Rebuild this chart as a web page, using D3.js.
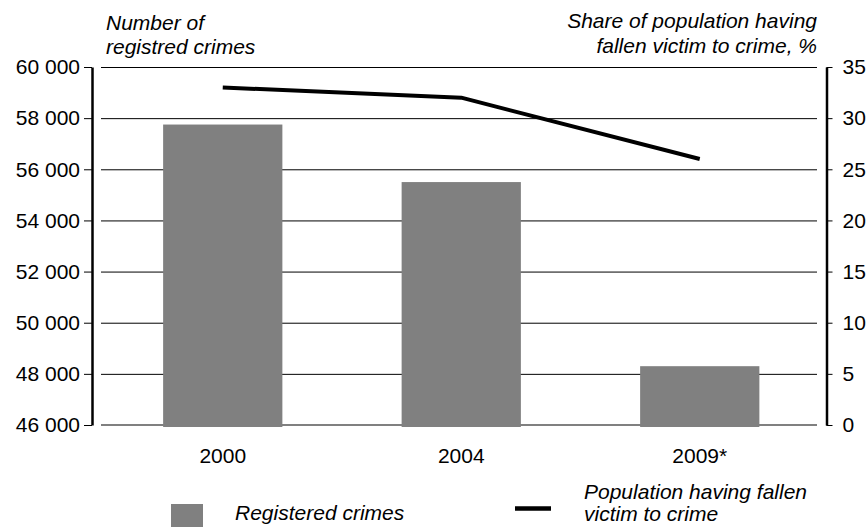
<!DOCTYPE html>
<html>
<head>
<meta charset="utf-8">
<script src="https://cdn.jsdelivr.net/npm/d3@7"></script>
<style>
  html, body { margin: 0; padding: 0; background: #fff; }
  svg { display: block; font-family: "Liberation Sans", Arial, sans-serif; }
</style>
</head>
<body>
<svg id="chart" width="868" height="527"></svg>
<script>
// ---- data ----
const years = ["2000", "2004", "2009*"];
const registeredCrimes = [57750, 55500, 48300];
const victimShare = [33, 32, 26];
const leftTicks = [46000, 48000, 50000, 52000, 54000, 56000, 58000, 60000];
const rightTicks = [0, 5, 10, 15, 20, 25, 30, 35];
const leftTitle = ["Number of", "registred crimes"];
const rightTitle = ["Share of population having", "fallen victim to crime, %"];
const legendBar = "Registered crimes";
const legendLine = ["Population having fallen", "victim to crime"];

// ---- layout ----
const svg = d3.select("#chart");
const plotTop = 67, plotBottom = 425;
const axL = 92, axR = 826.5;
const gridL = 101, gridR = 817;

const x = d3.scaleBand().domain(years).range([103.5, 819]).paddingInner(0.5).paddingOuter(0.25);
const yL = d3.scaleLinear().domain([46000, 60000]).range([plotBottom, plotTop]);
const yR = d3.scaleLinear().domain([0, 35]).range([plotBottom, plotTop]);

const fmt = v => d3.format(",")(v).replace(/,/g, " ");

// gridlines
svg.append("g").selectAll("line").data(leftTicks.filter(t => t !== 46000)).join("line")
  .attr("x1", gridL).attr("x2", gridR)
  .attr("y1", d => yL(d) + 0.5).attr("y2", d => yL(d) + 0.5)
  .attr("stroke", "#000").attr("stroke-width", 1);

// bars
svg.append("g").selectAll("rect").data(years).join("rect")
  .attr("x", d => x(d))
  .attr("width", x.bandwidth())
  .attr("y", (d, i) => yL(registeredCrimes[i]))
  .attr("height", (d, i) => plotBottom - yL(registeredCrimes[i]) + 2)
  .attr("fill", "#808080");

// baseline
svg.append("line")
  .attr("x1", gridL).attr("x2", gridR)
  .attr("y1", plotBottom).attr("y2", plotBottom)
  .attr("stroke", "#808080").attr("stroke-width", 2);

// line
const line = d3.line()
  .x((d, i) => x(years[i]) + x.bandwidth() / 2)
  .y(d => yR(d));
svg.append("path").datum(victimShare)
  .attr("d", line)
  .attr("fill", "none").attr("stroke", "#000").attr("stroke-width", 4)
  .attr("stroke-linejoin", "round");

// left axis
const gL = svg.append("g").attr("transform", `translate(${axL},0)`)
  .call(d3.axisLeft(yL).tickValues(leftTicks).tickFormat(fmt).tickSize(8).tickSizeOuter(0).tickPadding(4));
gL.select(".domain").attr("stroke", "#000").attr("stroke-width", 2.5);
gL.selectAll(".tick line").attr("stroke", "#000").attr("stroke-width", 1);
gL.selectAll(".tick text").attr("font-size", 21).attr("fill", "#000")
  .attr("font-family", "Liberation Sans, Arial, sans-serif");

// right axis
const gR = svg.append("g").attr("transform", `translate(${axR},0)`)
  .call(d3.axisRight(yR).tickValues(rightTicks).tickSize(6).tickSizeOuter(0).tickPadding(10));
gR.select(".domain").attr("stroke", "#000").attr("stroke-width", 2.5);
gR.selectAll(".tick line").attr("stroke", "#000").attr("stroke-width", 1);
gR.selectAll(".tick text").attr("font-size", 21).attr("fill", "#000")
  .attr("font-family", "Liberation Sans, Arial, sans-serif");

// x labels
svg.append("g").selectAll("text").data(years).join("text")
  .attr("x", d => x(d) + x.bandwidth() / 2)
  .attr("y", 463)
  .attr("text-anchor", "middle")
  .attr("font-size", 21)
  .text(d => d);

// axis titles
svg.append("g").selectAll("text").data(leftTitle).join("text")
  .attr("x", 106).attr("y", (d, i) => 30 + i * 24)
  .attr("font-size", 21).attr("font-style", "italic")
  .text(d => d);
svg.append("g").selectAll("text").data(rightTitle).join("text")
  .attr("x", 817).attr("y", (d, i) => 28 + i * 25)
  .attr("text-anchor", "end")
  .attr("font-size", 21).attr("font-style", "italic")
  .text(d => d);

// legend
svg.append("rect").attr("x", 171).attr("y", 504).attr("width", 32).attr("height", 32).attr("fill", "#808080");
svg.append("text").attr("x", 235).attr("y", 520)
  .attr("font-size", 21).attr("font-style", "italic").text(legendBar);
svg.append("line").attr("x1", 515).attr("x2", 551).attr("y1", 508.5).attr("y2", 508.5)
  .attr("stroke", "#000").attr("stroke-width", 4.5);
svg.append("g").selectAll("text").data(legendLine).join("text")
  .attr("x", 584).attr("y", (d, i) => 499 + i * 22)
  .attr("font-size", 21).attr("font-style", "italic")
  .text(d => d);
</script>
</body>
</html>
